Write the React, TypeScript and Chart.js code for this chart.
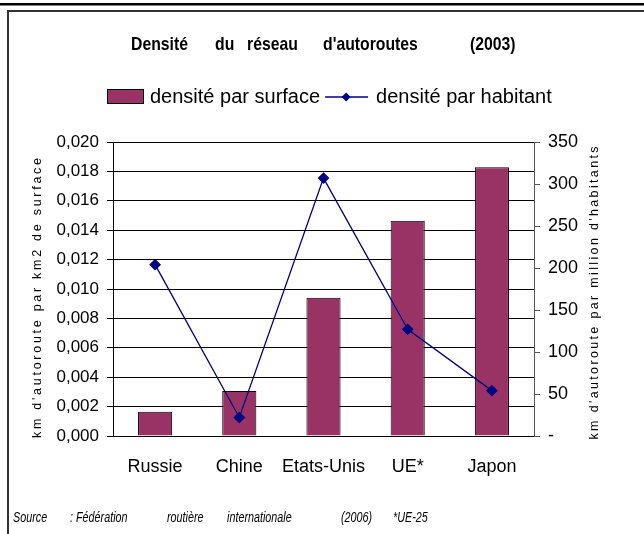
import React, { useEffect, useRef } from "react";
import { Chart, registerables } from "chart.js";

Chart.register(...registerables);

// ---- data ----
const categories = ["Russie", "Chine", "Etats-Unis", "UE*", "Japon"];
const densiteParSurface = [0.00165, 0.00306, 0.0094, 0.01465, 0.01828];
const densiteParHabitant = [204, 22, 307, 127, 54];
const seriesLabels = ["densité par surface", "densité par habitant"];
const titleWords = ["Densité", "du", "réseau", "d'autoroutes", "(2003)"];
const sourceWords = ["Source", ": Fédération", "routière", "internationale", "(2006)", "*UE-25"];
const leftAxisTitle = "km d'autoroute par km2 de surface";
const rightAxisTitle = "km d'autoroute par million d'habitants";
const leftMax = 0.02;
const leftStep = 0.002;
const rightMax = 350;
const rightStep = 50;

// ---- layout / style ----
const W = 644;
const H = 534;
const SANS = "'Liberation Sans', Arial, sans-serif";
const BAR_COLOR = "#993366";
const LINE_COLOR = "#000080";
const titleX = [131, 215, 247, 323, 470];
const sourceX = [13, 70, 167, 227, 341, 393];

function drawSpacedVertical(ctx: CanvasRenderingContext2D, text: string, cx: number, cy: number, len: number, font: string) {
  ctx.save();
  ctx.font = font;
  ctx.fillStyle = "#000";
  ctx.textBaseline = "middle";
  ctx.textAlign = "left";
  const base = ctx.measureText(text).width;
  const gap = (len - base) / (text.length - 1);
  ctx.translate(cx, cy);
  ctx.rotate(-Math.PI / 2);
  let x = -len / 2;
  for (const ch of text) {
    ctx.fillText(ch, x, 0);
    x += ctx.measureText(ch).width + gap;
  }
  ctx.restore();
}

function condensedText(ctx: CanvasRenderingContext2D, text: string, x: number, y: number, sx: number) {
  ctx.save();
  ctx.translate(x, y);
  ctx.scale(sx, 1);
  ctx.fillText(text, 0, 0);
  ctx.restore();
}

function diamond(ctx: CanvasRenderingContext2D, x: number, y: number, r: number) {
  ctx.beginPath();
  ctx.moveTo(x, y - r);
  ctx.lineTo(x + r, y);
  ctx.lineTo(x, y + r);
  ctx.lineTo(x - r, y);
  ctx.closePath();
  ctx.fill();
}

const decorPlugin = {
  id: "decor",
  afterDraw(chart: any) {
    const ctx: CanvasRenderingContext2D = chart.ctx;
    ctx.save();
    // frame
    ctx.fillStyle = "#000";
    ctx.fillRect(0, 3, W, 2.5);
    ctx.fillStyle = "#333";
    ctx.fillRect(7, 10, W - 7, 2);
    ctx.fillRect(7, 10, 2, H - 10);

    // title
    ctx.fillStyle = "#000";
    ctx.font = `bold 19px ${SANS}`;
    ctx.textBaseline = "middle";
    ctx.textAlign = "left";
    titleWords.forEach((w, i) => condensedText(ctx, w, titleX[i], 45, 0.83));

    // legend
    const ly = 97;
    ctx.fillStyle = BAR_COLOR;
    ctx.fillRect(107, 89.5, 36, 14);
    ctx.strokeStyle = "#000";
    ctx.lineWidth = 1;
    ctx.strokeRect(107.5, 89.5, 36, 14);
    ctx.fillStyle = "#000";
    ctx.font = `20px ${SANS}`;
    const l0 = chart.data.datasets[0].label;
    const l1 = chart.data.datasets[1].label;
    ctx.fillText(l0, 150, ly);
    const x0 = 150 + ctx.measureText(l0).width + 5;
    ctx.strokeStyle = LINE_COLOR;
    ctx.lineWidth = 1.3;
    ctx.beginPath();
    ctx.moveTo(x0, ly);
    ctx.lineTo(x0 + 43, ly);
    ctx.stroke();
    ctx.fillStyle = LINE_COLOR;
    diamond(ctx, x0 + 21, ly, 4.5);
    ctx.fillStyle = "#000";
    ctx.fillText(l1, x0 + 51, ly);

    // axis titles
    drawSpacedVertical(ctx, leftAxisTitle, 38, 298, 280, `12.5px ${SANS}`);
    drawSpacedVertical(ctx, rightAxisTitle, 595, 293, 293, `12.5px ${SANS}`);

    // source
    ctx.fillStyle = "#000";
    ctx.font = `italic 14px ${SANS}`;
    ctx.textBaseline = "alphabetic";
    sourceWords.forEach((w, i) => condensedText(ctx, w, sourceX[i], 522, 0.77));
    ctx.restore();
  },
};

export default function App() {
  const ref = useRef<HTMLCanvasElement | null>(null);
  useEffect(() => {
    if (!ref.current) return;
    const chart = new Chart(ref.current, {
      type: "bar",
      data: {
        labels: categories,
        datasets: [
          {
            type: "bar",
            label: seriesLabels[0],
            data: densiteParSurface,
            backgroundColor: BAR_COLOR,
            borderColor: "#000",
            borderWidth: 1,
            barPercentage: 0.405,
            categoryPercentage: 1,
            yAxisID: "y",
            order: 2,
          },
          {
            type: "line",
            label: seriesLabels[1],
            data: densiteParHabitant,
            borderColor: LINE_COLOR,
            backgroundColor: LINE_COLOR,
            borderWidth: 1.3,
            pointStyle: "rectRot",
            pointRadius: 5,
            pointBackgroundColor: LINE_COLOR,
            pointBorderColor: LINE_COLOR,
            tension: 0,
            yAxisID: "y1",
            order: 1,
          },
        ],
      },
      options: {
        responsive: false,
        devicePixelRatio: 1,
        animation: false,
        layout: { padding: { top: 142, left: 0, right: 0, bottom: 0 } },
        plugins: {
          legend: { display: false },
          title: { display: false },
          tooltip: { enabled: false },
        },
        scales: {
          x: {
            offset: true,
            grid: { display: false, drawTicks: false },
            border: { display: true, color: "#000", width: 1 },
            ticks: {
              color: "#000",
              font: { family: SANS, size: 18 },
              padding: 20,
              maxRotation: 0,
              autoSkip: false,
            },
            afterFit: (s: any) => { s.height = H - 436; },
          },
          y: {
            position: "left",
            min: 0,
            max: leftMax,
            grid: { color: "#000", lineWidth: 1, tickColor: "#000", tickLength: 6 },
            border: { display: true, color: "#000", width: 1 },
            ticks: {
              stepSize: leftStep,
              color: "#000",
              padding: 8,
              font: { family: SANS, size: 17 },
              callback: (v: any) => Number(v).toFixed(3).replace(".", ","),
            },
            afterFit: (s: any) => { s.width = 113; },
          },
          y1: {
            position: "right",
            min: 0,
            max: rightMax,
            grid: { drawOnChartArea: false, color: "#555", tickColor: "#555", tickLength: 6 },
            border: { display: true, color: "#555", width: 1 },
            ticks: {
              stepSize: rightStep,
              color: "#000",
              padding: 8,
              font: { family: SANS, size: 18 },
              callback: (v: any) => (Number(v) === 0 ? "-" : String(v)),
            },
            afterFit: (s: any) => { s.width = W - 534; },
          },
        },
      },
      plugins: [decorPlugin],
    } as any);
    return () => chart.destroy();
  }, []);
  return (
    <div style={{ position: "fixed", left: 0, top: 0, width: W, height: H, background: "#fff" }}>
      <canvas ref={ref} width={W} height={H} style={{ display: "block" }} />
    </div>
  );
}
